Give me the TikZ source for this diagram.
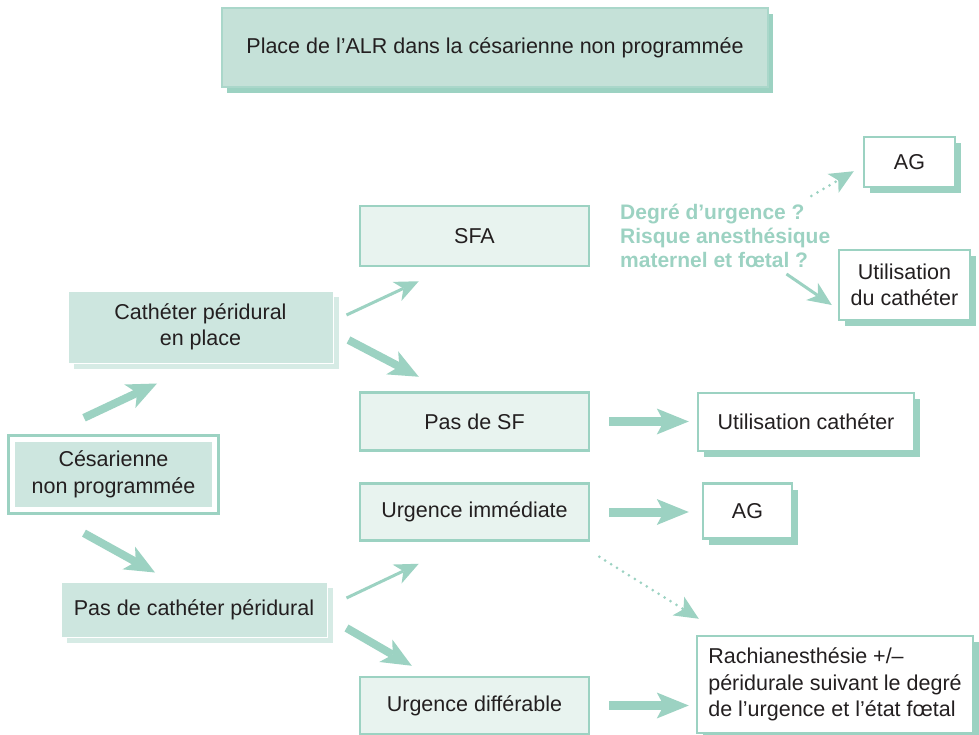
\documentclass[tikz,border=0pt]{standalone}
\usepackage{fontspec}
\setmainfont{Liberation Sans}
\usetikzlibrary{arrows.meta,shadows,fit}

\definecolor{mint}{HTML}{9CD2C2}
\definecolor{titlefill}{HTML}{C5E1D8}
\definecolor{titleline}{HTML}{AAD7CA}
\definecolor{deepfill}{HTML}{CDE6DF}
\definecolor{paleshadow}{HTML}{D6EBE5}
\definecolor{palefill}{HTML}{E8F3EF}
\definecolor{ink}{HTML}{231F20}

\begin{document}
\begin{tikzpicture}[x=1pt,y=-1pt,
    every node/.style={font=\fontsize{21.5}{26.5}\selectfont, text=ink, inner sep=0pt, align=center},
    titlebox/.style={fill=titlefill, draw=titleline, line width=1.5pt,
      drop shadow={shadow xshift=5pt, shadow yshift=-6pt, fill=mint, opacity=1}},
    darkbox/.style={fill=deepfill, draw=white, line width=1pt,
      drop shadow={shadow xshift=6pt, shadow yshift=-6pt, fill=paleshadow, opacity=1}},
    midbox/.style={fill=palefill, draw=mint, line width=2.5pt, minimum width=229pt},
    whitebox/.style={fill=white, draw=mint, line width=2.5pt,
      drop shadow={shadow xshift=6pt, shadow yshift=-6pt, fill=mint, opacity=1}},
    fatarrow/.style={draw=mint, line width=8pt, -{Stealth[length=30pt,width=26pt,inset=8pt,line width=0pt]}},
    widearrow/.style={draw=mint, line width=9pt, -{Stealth[length=32pt,width=26pt,inset=7pt,line width=0pt]}},
    slimarrow/.style={draw=mint, line width=3pt, -{Stealth[length=24pt,width=21pt,inset=7pt,line width=0pt]}},
    dotarrow/.style={draw=mint, line width=3pt, line cap=round, dash pattern=on 0pt off 7pt,
      -{Stealth[length=24pt,width=22pt,inset=6pt,line width=0pt]}}]

        \useasboundingbox (0,0) rectangle (979,735);

        % Title
        \node[titlebox, minimum width=546pt, minimum height=79pt] (title) at (495,47.5)
          {Place de l’ALR dans la césarienne non programmée};

        % Left column
        \node[fill=deepfill, minimum width=197pt, minimum height=65pt] (ces) at (113.5,474.5)
          {Césarienne\\non programmée};
        \node[draw=mint, line width=3pt, inner sep=6.5pt, fit=(ces)] (cesframe) {}; % outer frame
        \node[darkbox, minimum width=265pt, minimum height=72pt] (cath) at (200.5,327)
          {Cathéter péridural\\en place};
        \node[darkbox, minimum width=266pt, minimum height=55pt] (pasc) at (194,609.5)
          {Pas de cathéter péridural};

        % Middle column
        \node[midbox, minimum height=60pt] (sfa) at (474.5,236) {SFA};
        \node[midbox, minimum height=58pt] (passf) at (474.5,421.5) {Pas de SF};
        \node[midbox, minimum height=57pt] (urgi) at (474.5,512) {Urgence immédiate};
        \node[midbox, minimum height=57pt] (urgd) at (474.5,705.5) {Urgence différable};

        % Right column
        \node[whitebox, minimum width=91pt, minimum height=50pt] (agt) at (909.5,162) {AG};
        \node[whitebox, minimum width=131pt, minimum height=70pt] (utildc) at (904.5,285)
          {Utilisation\\du cathéter};
        \node[whitebox, minimum width=216pt, minimum height=58pt] (utilc) at (806,422)
          {Utilisation cathéter};
        \node[whitebox, minimum width=89pt, minimum height=55pt] (agm) at (747.5,511) {AG};
        \node[whitebox, minimum width=276pt, minimum height=97pt, align=left]
          (rachi) at (835,684.5)
          {Rachianesthésie +/–\\péridurale suivant le degré\\de l’urgence et l’état fœtal};

        % Question text
        \node[font=\bfseries\fontsize{21}{24}\selectfont, text=mint, align=left, anchor=west]
          (degre) at (620,236) {Degré d’urgence ?\\Risque anesthésique\\maternel et fœtal ?};

        % Arrows from the first box
        \draw[fatarrow] ([shift={(-29.5,-16)}]cesframe.north) -- ([shift={(-43.5,20)}]cath.south);
        \draw[fatarrow] ([shift={(-29.5,18)}]cesframe.south) -- ([shift={(-39,-9)}]pasc.north);

        % Arrows from the two catheter boxes
        \draw[slimarrow] ([shift={(13,-12)}]cath.east) -- ([shift={(60,14)}]sfa.south west);
        \draw[fatarrow] ([shift={(15,13)}]cath.east) -- ([shift={(60,-14.5)}]passf.north west);
        \draw[slimarrow] ([shift={(19,-11.5)}]pasc.east) -- ([shift={(60,22)}]urgi.south west);
        \draw[fatarrow] ([shift={(19,18.5)}]pasc.east) -- ([shift={(53,-10)}]urgd.north west);

        % Horizontal arrows
        \draw[widearrow, shorten <=19pt, shorten >=8pt] (passf.east) -- (passf.east -| utilc.west);
        \draw[widearrow, shorten <=19pt, shorten >=13pt] (urgi.east) -- (urgi.east -| agm.west);
        \draw[widearrow, shorten <=19pt, shorten >=7pt] (urgd.east) -- (urgd.east -| rachi.west);

        % Dotted and question arrows
        \draw[dotarrow] ([shift={(9,15)}]urgi.south east) -- ([shift={(3,-16)}]rachi.north west);
        \draw[dotarrow] ([shift={(-19,-8)}]degre.north east) -- ([shift={(-9,-17)}]agt.south west);
        \draw[slimarrow] ([shift={(-44,6)}]degre.south east) -- ([shift={(-6,20)}]utildc.west);

\end{tikzpicture}
\end{document}
